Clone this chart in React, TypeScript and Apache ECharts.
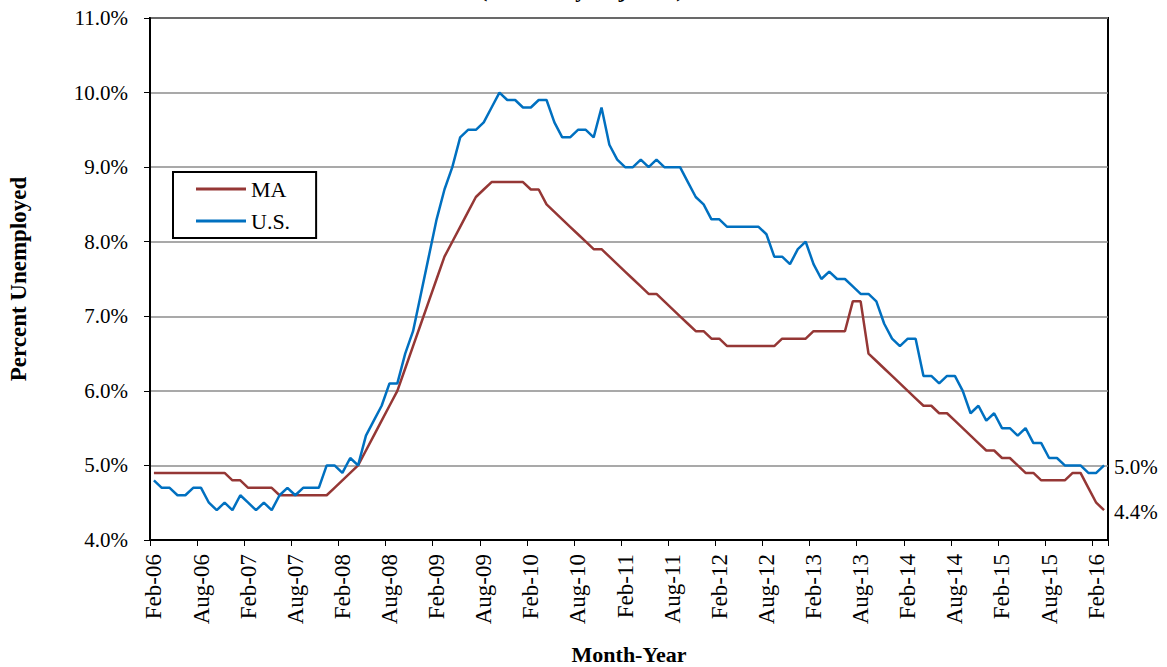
import React, { useEffect, useRef } from "react";
import * as echarts from "echarts";

const MONTH_NAMES = ["Jan", "Feb", "Mar", "Apr", "May", "Jun", "Jul", "Aug", "Sep", "Oct", "Nov", "Dec"];
const START_YEAR = 2006;
const START_MONTH = 1; // Feb
const N_MONTHS = 122; // Feb-06 .. Mar-16

const categories: string[] = [];
for (let i = 0; i < N_MONTHS; i++) {
  const m = (START_MONTH + i) % 12;
  const y = START_YEAR + Math.floor((START_MONTH + i) / 12);
  categories.push(MONTH_NAMES[m] + "-" + String(y % 100).padStart(2, "0"));
}

const usValues = [
  // 2006 Feb-Dec
  4.8, 4.7, 4.7, 4.6, 4.6, 4.7, 4.7, 4.5, 4.4, 4.5, 4.4,
  // 2007
  4.6, 4.5, 4.4, 4.5, 4.4, 4.6, 4.7, 4.6, 4.7, 4.7, 4.7, 5.0,
  // 2008
  5.0, 4.9, 5.1, 5.0, 5.4, 5.6, 5.8, 6.1, 6.1, 6.5, 6.8, 7.3,
  // 2009
  7.8, 8.3, 8.7, 9.0, 9.4, 9.5, 9.5, 9.6, 9.8, 10.0, 9.9, 9.9,
  // 2010
  9.8, 9.8, 9.9, 9.9, 9.6, 9.4, 9.4, 9.5, 9.5, 9.4, 9.8, 9.3,
  // 2011
  9.1, 9.0, 9.0, 9.1, 9.0, 9.1, 9.0, 9.0, 9.0, 8.8, 8.6, 8.5,
  // 2012
  8.3, 8.3, 8.2, 8.2, 8.2, 8.2, 8.2, 8.1, 7.8, 7.8, 7.7, 7.9,
  // 2013
  8.0, 7.7, 7.5, 7.6, 7.5, 7.5, 7.4, 7.3, 7.3, 7.2, 6.9, 6.7,
  // 2014
  6.6, 6.7, 6.7, 6.2, 6.2, 6.1, 6.2, 6.2, 6.0, 5.7, 5.8, 5.6,
  // 2015
  5.7, 5.5, 5.5, 5.4, 5.5, 5.3, 5.3, 5.1, 5.1, 5.0, 5.0, 5.0,
  // 2016 Jan-Mar
  4.9, 4.9, 5.0,
];

const maValues = [
  // 2006 Feb-Dec
  4.9, 4.9, 4.9, 4.9, 4.9, 4.9, 4.9, 4.9, 4.9, 4.9, 4.8,
  // 2007
  4.8, 4.7, 4.7, 4.7, 4.7, 4.6, 4.6, 4.6, 4.6, 4.6, 4.6, 4.6,
  // 2008
  4.7, 4.8, 4.9, 5.0, 5.2, 5.4, 5.6, 5.8, 6.0, 6.3, 6.6, 6.9,
  // 2009
  7.2, 7.5, 7.8, 8.0, 8.2, 8.4, 8.6, 8.7, 8.8, 8.8, 8.8, 8.8,
  // 2010
  8.8, 8.7, 8.7, 8.5, 8.4, 8.3, 8.2, 8.1, 8.0, 7.9, 7.9, 7.8,
  // 2011
  7.7, 7.6, 7.5, 7.4, 7.3, 7.3, 7.2, 7.1, 7.0, 6.9, 6.8, 6.8,
  // 2012
  6.7, 6.7, 6.6, 6.6, 6.6, 6.6, 6.6, 6.6, 6.6, 6.7, 6.7, 6.7,
  // 2013
  6.7, 6.8, 6.8, 6.8, 6.8, 6.8, 7.2, 7.2, 6.5, 6.4, 6.3, 6.2,
  // 2014
  6.1, 6.0, 5.9, 5.8, 5.8, 5.7, 5.7, 5.6, 5.5, 5.4, 5.3, 5.2,
  // 2015
  5.2, 5.1, 5.1, 5.0, 4.9, 4.9, 4.8, 4.8, 4.8, 4.8, 4.9, 4.9,
  // 2016 Jan-Mar
  4.7, 4.5, 4.4,
];

const SERIF = "'Liberation Serif', 'Times New Roman', serif";

export default function App() {
  const ref = useRef<HTMLDivElement>(null);

  useEffect(() => {
    if (!ref.current) return;
    const chart = echarts.init(ref.current, undefined, { renderer: "svg" });
    const fmtEnd = (p: any) => Number(p.value).toFixed(1) + "%";
    chart.setOption({
      animation: false,
      backgroundColor: "#ffffff",
      textStyle: { fontFamily: SERIF, color: "#000" },
      grid: {
        left: 150,
        top: 18,
        right: 59,
        bottom: 127,
        containLabel: false,
        outerBoundsMode: "none",
        show: true,
        borderColor: "#000",
        borderWidth: 2,
        backgroundColor: "transparent",
      },
      legend: {
        orient: "vertical",
        left: 173,
        top: 172,
        data: ["MA", "U.S."],
        icon: "rect",
        itemWidth: 50,
        itemHeight: 3,
        itemGap: 10,
        padding: [6, 26, 6, 23],
        borderColor: "#000",
        borderWidth: 2,
        textStyle: { fontFamily: SERIF, fontSize: 22, color: "#000" },
      },
      graphic: [
        {
          type: "text",
          left: 480,
          top: -22,
          style: {
            text: "(Seasonally Adjusted)",
            font: "bold 22px " + SERIF,
            fill: "#000",
          },
        },
      ],
      xAxis: {
        type: "category",
        data: categories,
        boundaryGap: true,
        name: "Month-Year",
        nameLocation: "middle",
        nameGap: 103,
        nameTextStyle: { fontFamily: SERIF, fontSize: 22, fontWeight: "bold", color: "#000" },
        axisLine: { show: true, lineStyle: { color: "#000", width: 2 } },
        axisTick: { show: true, interval: 5, alignWithLabel: false, length: 6, lineStyle: { color: "#000", width: 1 } },
        axisLabel: {
          interval: 5,
          rotate: 90,
          margin: 14,
          fontFamily: SERIF,
          fontSize: 23,
          color: "#000",
        },
        splitLine: { show: false },
      },
      yAxis: {
        type: "value",
        min: 4,
        max: 11,
        interval: 1,
        name: "Percent Unemployed",
        nameLocation: "middle",
        nameGap: 120,
        nameRotate: 90,
        nameTextStyle: { fontFamily: SERIF, fontSize: 23, fontWeight: "bold", color: "#000" },
        axisLine: { show: true, lineStyle: { color: "#000", width: 2 } },
        axisTick: { show: true, length: 6, lineStyle: { color: "#000", width: 1 } },
        axisLabel: {
          formatter: (v: number) => v.toFixed(1) + "%",
          fontFamily: SERIF,
          fontSize: 21,
          color: "#000",
          margin: 22,
        },
        splitLine: { show: true, lineStyle: { color: "#8c8c8c", width: 1.5 } },
      },
      series: [
        {
          name: "MA",
          type: "line",
          data: maValues,
          showSymbol: false,
          symbol: "none",
          lineStyle: { color: "#953735", width: 2.5 },
          itemStyle: { color: "#953735" },
          endLabel: {
            show: true,
            formatter: fmtEnd,
            fontFamily: SERIF,
            fontSize: 21,
            color: "#000",
            distance: 10,
            offset: [0, 2],
          },
          z: 3,
        },
        {
          name: "U.S.",
          type: "line",
          data: usValues,
          showSymbol: false,
          symbol: "none",
          lineStyle: { color: "#0070c0", width: 2.5 },
          itemStyle: { color: "#0070c0" },
          endLabel: {
            show: true,
            formatter: fmtEnd,
            fontFamily: SERIF,
            fontSize: 21,
            color: "#000",
            distance: 10,
            offset: [0, 2],
          },
          z: 4,
        },
      ],
    });
    return () => chart.dispose();
  }, []);

  return <div ref={ref} style={{ width: 1167, height: 667, position: "absolute", left: 0, top: 0 }} />;
}
